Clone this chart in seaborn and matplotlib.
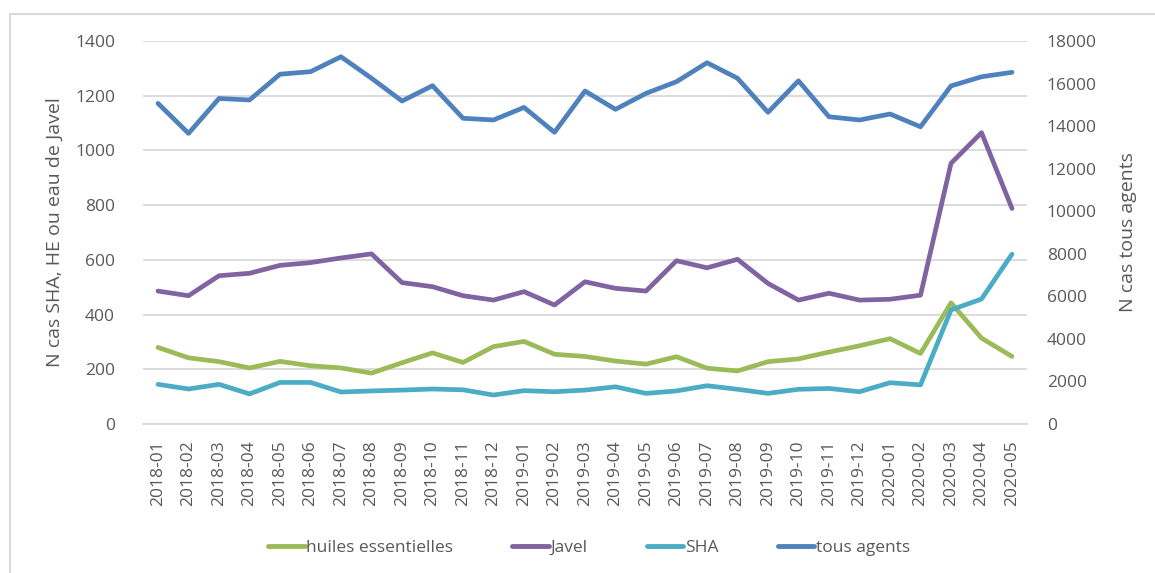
import seaborn as sns
import pandas as pd
import matplotlib.pyplot as plt
from matplotlib.lines import Line2D
from matplotlib.patches import Rectangle

# monthly counts
mois = ["2018-01", "2018-02", "2018-03", "2018-04", "2018-05", "2018-06", "2018-07",
        "2018-08", "2018-09", "2018-10", "2018-11", "2018-12", "2019-01", "2019-02",
        "2019-03", "2019-04", "2019-05", "2019-06", "2019-07", "2019-08", "2019-09",
        "2019-10", "2019-11", "2019-12", "2020-01", "2020-02", "2020-03", "2020-04",
        "2020-05"]
huiles = [280, 242, 228, 205, 229, 213, 205, 186, 224, 260, 225, 283, 302, 255,
          247, 230, 219, 246, 204, 194, 228, 238, 263, 286, 312, 258, 443, 314, 247]
javel = [486, 469, 542, 551, 580, 590, 607, 622, 517, 502, 469, 453, 484, 435,
         520, 496, 486, 597, 571, 602, 514, 453, 478, 453, 456, 471, 953, 1065, 788]
sha = [145, 128, 145, 110, 152, 152, 117, 121, 124, 128, 125, 106, 122, 118,
       124, 136, 112, 121, 140, 127, 112, 127, 130, 118, 151, 143, 417, 457, 621]
tous_agents = [15070, 13660, 15300, 15230, 16440, 16560, 17260, 16250, 15180, 15900,
               14370, 14290, 14880, 13710, 15650, 14790, 15540, 16090, 16980, 16250,
               14650, 16130, 14440, 14290, 14570, 13970, 15890, 16320, 16530]

series_names = ["huiles essentielles", "Javel", "SHA", "tous agents"]
colors = ["#9BBB59", "#8064A2", "#4BACC6", "#4F81BD"]
gray = "#595959"

sns.set_style("white")
plt.rcParams["font.family"] = ["Open Sans", "DejaVu Sans"]

left_df = pd.DataFrame({"x": list(range(len(mois))) * 3,
                        "n": huiles + javel + sha,
                        "serie": [series_names[0]] * len(mois) + [series_names[1]] * len(mois)
                                 + [series_names[2]] * len(mois)})
right_df = pd.DataFrame({"x": range(len(mois)), "n": tous_agents})

fig = plt.figure(figsize=(11.55, 5.73), dpi=100)
ax = fig.add_axes([0.1236, 0.26, 0.7658, 0.6684])
ax2 = ax.twinx()

sns.lineplot(data=left_df, x="x", y="n", hue="serie", palette=colors[:3], linewidth=3.4,
             ax=ax, legend=False)
sns.lineplot(data=right_df, x="x", y="n", color=colors[3], linewidth=3.4, ax=ax2)

ax.set_xlim(-0.5, len(mois) - 0.5)
ax.set_ylim(0, 1400)
ax.set_yticks(range(0, 1401, 200))
ax2.set_ylim(0, 18000)
ax2.set_yticks(range(0, 18001, 2000))
ax.set_xticks(range(len(mois)))
ax.set_xticklabels(mois, rotation=90)

ax.grid(axis="y", color="#D9D9D9", linewidth=1.3)
ax.set_axisbelow(True)
for a in (ax, ax2):
    for s in a.spines.values():
        s.set_visible(False)
    a.tick_params(length=0, colors=gray, labelsize=12.5)
    a.set_xlabel("")
ax.spines["bottom"].set_visible(True)
ax.spines["bottom"].set_color("#D9D9D9")
ax.spines["bottom"].set_linewidth(1.3)
ax.tick_params(axis="y", pad=20)
ax.tick_params(axis="x", pad=12)
ax2.tick_params(axis="y", pad=14)

ax.set_ylabel("N cas SHA, HE ou eau de Javel", color=gray, fontsize=14, labelpad=8)
ax2.set_ylabel("N cas tous agents", color=gray, fontsize=14, labelpad=16)

handles = [Line2D([], [], color=c, linewidth=3.5) for c in colors]
fig.legend(handles, series_names, loc="center", bbox_to_anchor=(0.51, 0.044), ncol=4,
           frameon=False, fontsize=12.5, labelcolor=gray, handlelength=2.1,
           handletextpad=0.1, columnspacing=3.4)

fig.patches.append(Rectangle((10 / 1155, -0.1), 1.2, 1 - 14 / 573 + 0.1,
                             transform=fig.transFigure, fill=False,
                             edgecolor="#D9D9D9", linewidth=1.5))

fig.savefig("out.png", dpi=100)
